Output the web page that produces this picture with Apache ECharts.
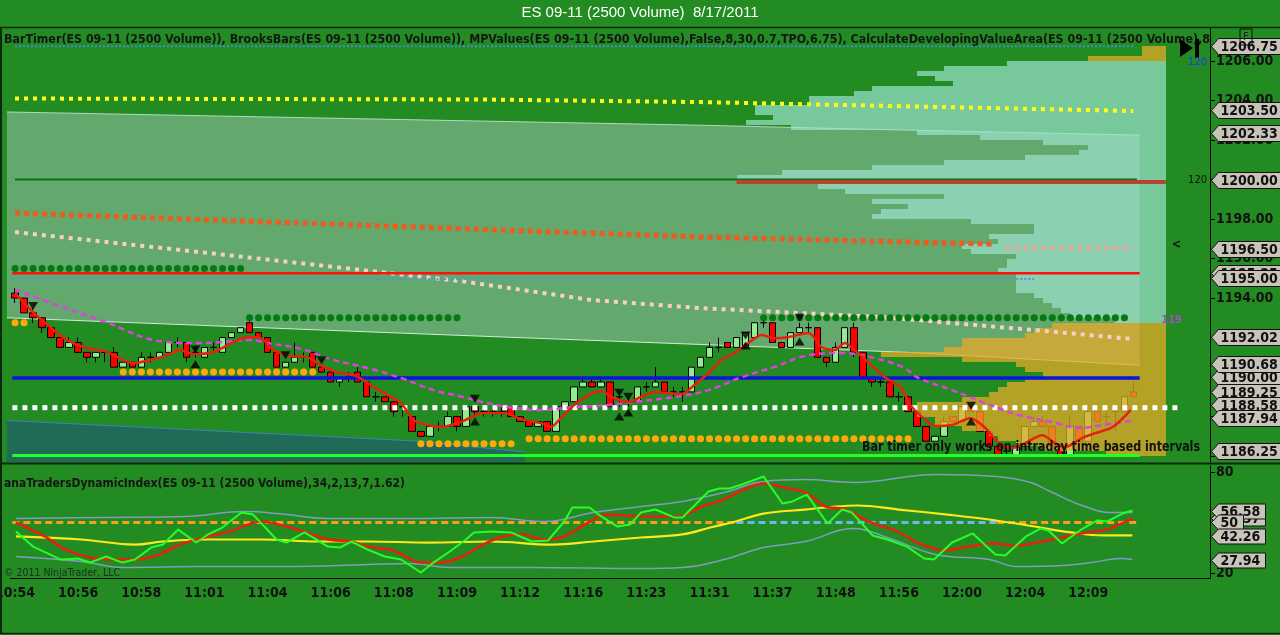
<!DOCTYPE html>
<html><head><meta charset="utf-8">
<script src="https://cdn.jsdelivr.net/npm/echarts@6/dist/echarts.min.js"></script>
<style>html,body{margin:0;padding:0;background:#228B22;}#c{width:1280px;height:635px;}</style>
</head><body><div id="c"></div>
<script>
// ---------------- DATA ----------------
const timeLabels = ['10:54','10:56','10:58','11:01','11:04','11:06','11:08','11:09','11:12','11:16','11:23','11:31','11:37','11:48','11:56','12:00','12:04','12:09'];
const slotCount = 133;
const barsPerLabel = 7;

const opens = [1194.25,1194.0,1193.25,1193.0,1192.5,1192.0,1191.5,1191.75,1191.25,1191.0,
1191.25,1191.25,1190.5,1190.75,1190.5,1191.0,1191.0,1191.25,1191.75,1191.75,
1191.25,1191.0,1191.5,1191.25,1192.0,1192.25,1192.75,1192.25,1192.0,1191.25,
1190.5,1190.75,1191.0,1191.25,1190.5,1190.25,1189.75,1190.0,1190.25,1189.75,
1189.0,1189.0,1188.75,1188.5,1188.0,1187.25,1187.0,1187.5,1187.5,1188.0,
1187.5,1188.5,1188.25,1188.25,1188.25,1188.5,1188.0,1187.75,1187.5,1187.75,
1187.25,1188.5,1188.75,1189.5,1189.75,1189.5,1189.75,1189.0,1188.75,1188.75,
1189.5,1189.5,1189.75,1189.25,1189.25,1189.25,1190.5,1191.0,1191.5,1191.75,
1191.5,1191.5,1192.0,1192.75,1192.75,1191.75,1191.5,1192.25,1192.5,1192.5,
1191.0,1190.75,1191.5,1192.5,1191.25,1190.0,1189.75,1189.75,1189.0,1189.0,
1188.25,1187.5,1186.75,1187.0,1188.0,1187.75,1188.5,1188.25,1187.25,1186.5,
1186.25,1186.0,1186.5,1187.5,1187.75,1187.5,1186.5,1186.0,1187.5,1186.75,
1188.25,1188.0,1188.25,1188.25,1189.25];
const closes = [1194.0,1193.25,1193.0,1192.5,1192.0,1191.5,1191.75,1191.25,1191.0,1191.25,
1191.25,1190.5,1190.75,1190.5,1191.0,1191.0,1191.25,1191.75,1191.75,1191.0,
1191.25,1191.5,1191.5,1192.0,1192.25,1192.5,1192.25,1192.0,1191.25,1190.5,
1190.75,1191.0,1191.0,1190.5,1190.25,1189.75,1190.0,1190.0,1189.75,1189.0,
1189.0,1188.75,1188.25,1188.5,1187.25,1187.0,1187.5,1187.5,1188.0,1187.5,
1188.5,1188.25,1188.25,1188.25,1188.25,1188.0,1187.75,1187.5,1187.75,1187.25,
1188.5,1188.75,1189.5,1189.75,1189.5,1189.75,1188.5,1189.0,1188.75,1189.5,
1189.5,1189.75,1189.25,1189.25,1189.25,1190.5,1191.0,1191.5,1191.5,1191.5,
1192.0,1192.25,1192.75,1192.75,1191.75,1191.5,1192.25,1192.5,1192.5,1191.0,
1190.75,1191.5,1192.5,1191.25,1190.0,1189.75,1189.75,1189.0,1189.0,1188.25,
1187.5,1186.75,1187.0,1187.75,1187.75,1188.5,1188.25,1187.25,1186.5,1186.0,
1186.25,1186.5,1187.5,1187.75,1187.5,1186.5,1186.0,1187.5,1186.75,1188.25,
1187.75,1188.0,1188.25,1189.0,1189.0];
const lows = [1193.75,1193.25,1192.75,1192.25,1192.0,1191.5,1191.5,1191.25,1190.75,1190.75,
1190.75,1190.5,1190.5,1190.5,1190.5,1190.75,1191.0,1191.25,1191.5,1190.75,
1191.0,1191.0,1191.25,1191.25,1192.0,1192.25,1192.25,1192.0,1191.25,1190.5,
1190.5,1190.75,1190.75,1190.5,1190.25,1189.75,1189.5,1189.75,1189.75,1189.0,
1188.75,1188.75,1188.0,1188.0,1187.25,1187.0,1187.0,1187.25,1187.5,1187.25,
1187.5,1188.0,1188.0,1188.0,1188.0,1188.0,1187.75,1187.5,1187.5,1187.25,
1187.25,1188.5,1188.75,1189.5,1189.5,1189.5,1188.5,1188.5,1188.5,1188.75,
1189.25,1189.5,1189.25,1189.0,1188.75,1189.25,1190.5,1191.0,1191.25,1191.5,
1191.5,1191.5,1192.0,1192.5,1191.75,1191.5,1191.5,1192.25,1192.25,1191.0,
1190.5,1190.75,1191.5,1191.0,1190.0,1189.5,1189.5,1189.0,1188.75,1188.25,
1187.5,1186.75,1186.75,1187.0,1187.75,1187.75,1188.25,1187.25,1186.5,1186.0,
1186.0,1186.0,1186.5,1187.5,1187.5,1186.5,1186.0,1186.0,1186.75,1186.75,
1187.75,1187.5,1187.25,1188.25,1189.0];
const highs = [1194.5,1194.0,1193.5,1193.0,1192.5,1192.0,1192.0,1192.0,1191.25,1191.25,
1191.25,1191.5,1190.75,1190.75,1191.25,1191.25,1191.25,1191.75,1192.0,1191.75,
1191.5,1191.5,1191.75,1192.0,1192.25,1192.5,1193.0,1192.25,1192.0,1191.25,
1190.75,1191.75,1191.25,1191.25,1190.5,1190.25,1190.0,1190.25,1190.5,1189.75,
1189.25,1189.0,1188.75,1188.5,1188.0,1187.25,1187.5,1187.75,1188.25,1188.0,
1188.5,1188.5,1188.5,1188.5,1188.5,1188.5,1188.0,1187.75,1187.75,1187.75,
1188.5,1188.75,1189.5,1190.0,1190.0,1190.0,1189.75,1189.25,1189.0,1189.5,
1189.75,1190.5,1189.75,1189.5,1189.5,1190.5,1191.0,1191.75,1192.0,1191.75,
1192.0,1192.25,1192.75,1193.0,1192.75,1191.75,1192.25,1192.75,1192.75,1192.5,
1191.0,1191.75,1192.5,1192.75,1191.25,1190.0,1190.0,1189.75,1189.25,1189.0,
1188.25,1187.5,1187.0,1188.0,1188.0,1188.5,1188.5,1188.25,1187.25,1186.5,
1186.5,1186.5,1187.5,1188.0,1188.0,1187.5,1186.5,1188.0,1187.5,1188.5,
1188.25,1188.25,1188.25,1189.0,1189.75];

// price axis
const priceMin = 1185.70, priceMax = 1207.67;
const priceTicks = [1186,1188,1190,1192,1194,1196,1198,1200,1202,1204,1206];
const priceTags = [1206.75,1203.50,1202.33,1200.00,1196.50,1195.25,1195.00,1192.02,1190.00,1190.68,1189.25,1188.58,1187.94,1186.25];

// market profile (row top price, left edge in bar units)
const profilePrices = [1206.75,1206.5,1206.25,1206.0,1205.75,1205.5,1205.25,1205.0,1204.75,1204.5,
1204.25,1204.0,1203.75,1203.5,1203.25,1203.0,1202.75,1202.5,1202.25,1202.0,
1201.75,1201.5,1201.25,1201.0,1200.75,1200.5,1200.25,1200.0,1199.75,1199.5,
1199.25,1199.0,1198.75,1198.5,1198.25,1198.0,1197.75,1197.5,1197.25,1197.0,
1196.75,1196.5,1196.25,1196.0,1195.75,1195.5,1195.25,1195.0,1194.75,1194.5,
1194.25,1194.0,1193.75,1193.5,1193.25,1193.0,
1192.75,1192.5,1192.25,1192.0,1191.75,1191.5,1191.25,1191.0,1190.75,1190.5,
1190.25,1190.0,1189.75,1189.5,1189.25,1189.0,1188.75,1188.5,1188.25,1188.0,
1187.75,1187.5,1187.25,1187.0,1186.75,1186.5,1186.25];
const profileLeft = [125,125,119,110,103,100,102,104,95,93,
88,88,82,82,84,81,86,100,107,114,
119,118,112,103,95,85,80,80,89,92,
103,95,99,96,95,106,113,113,108,109,
105,106,111,110,110,109,111,111,111,111,
113,114,115,116,117,122,
115,113,112,105,105,103,96,105,111,112,
114,112,110,109,108,105,100,100,100,102,
102,105,108,109,111,114,121];
const profileRight = 127.6;
const profileGoldAbove = 1206.1, profileGoldBelow = 1193.0;

// developing value area band
const vaBars = [-0.9, 47, 76, 99, 124.7];
const vaTop = [1203.42, 1203.0, 1202.75, 1202.5, 1202.25];
const vaBottom = [1193.0, 1192.15, 1191.65, 1191.25, 1190.6];
// previous value area (dark teal)
const tealBars = [-0.9, 45, 56.5];
const tealTop = [1187.8, 1186.75, 1186.2];

// sloped dotted levels
const yellowBars = [0, 52, 76, 124];
const yellowPrices = [1204.1, 1204.05, 1203.92, 1203.47];
const triBars = [0, 76, 108.7];
const triPrices = [1198.3, 1197.09, 1196.73];
const paleTriBars = [109.8, 124];
const paleTriPrices = [1196.53, 1196.53];
const pinkBars = [0, 22, 49.4, 63.9, 76, 96, 113, 124.1];
const pinkPrices = [1197.34, 1196.25, 1194.86, 1193.9, 1193.49, 1193.04, 1192.38, 1191.92];

// horizontal levels
const topBlueLevel = 1206.75, topBlueSpan = [0, 124];
const greenLevel = 1200.0, greenSpan = [0, 124.4];
const brownLevel = 1199.88, brownSpan = [80, 127.6];
const redLevel = 1195.25, redSpan = [-0.3, 124.7];
const blueDotLevel = 1194.96, blueDotSpan = [-0.3, 113];
const blueLevel = 1189.95, blueSpan = [-0.3, 124.7];
const whiteLevel = 1188.45, whiteSpan = [-1.4, 128.9];
const limeLevel = 1186.03, limeSpan = [-0.3, 124.7];
const greenDotLevels = [1195.5, 1193.0, 1193.0];
const greenDotFrom = [0, 26, 83];
const greenDotTo = [25.5, 49.4, 124];
const orangeDotLevels = [1192.75, 1190.25, 1186.62, 1186.88];
const orangeDotFrom = [0, 12, 45, 57];
const orangeDotTo = [2, 34, 56, 100];

// moving averages
const fastBars = [0,2,3.9,5.8,8,10.2,12,13.1,15,16.9,18.3,19.8,22,23.6,25.8,27.2,28.7,30.6,32.4,34.2,36.1,37.6,39.1,41.3,42.8,44.2,45.3,47.2,49.4,52,54.2,56.1,58.3,59.4,60.6,62,63.6,65,66.1,68,69.4,70.9,72.4,73.9,75.3,76.9,78.3,79.8,81.3,82.8,84.2,85.8,88,89.4,90.9,92,93.1,94.7,96.4,98.3,99.1,100.6,102,103.9,105.9,107.6,109.1,110.6,112,113.9,115.3,116.4,118.3,119.8,121.7,123.7];
const fastPrices = [1194.25,1193.29,1192.53,1191.87,1191.47,1191.27,1190.86,1190.71,1190.86,1191.11,1191.37,1191.16,1191.27,1191.62,1192.03,1191.97,1191.37,1191.06,1191.01,1190.51,1190.2,1190.1,1189.7,1189.09,1188.68,1187.82,1187.62,1187.47,1187.72,1188.18,1188.18,1187.87,1187.67,1187.47,1187.97,1188.58,1189.09,1189.29,1188.99,1188.73,1188.99,1189.24,1189.19,1189.14,1189.59,1190.2,1190.86,1191.22,1191.72,1192.13,1191.97,1192.03,1192.23,1191.52,1191.37,1191.72,1191.37,1190.71,1190.0,1189.44,1188.68,1187.97,1187.52,1187.57,1187.92,1187.42,1186.66,1186.41,1186.66,1187.06,1186.66,1186.46,1186.91,1187.16,1187.47,1188.33];
const slowBars = [0,9.4,16.9,20.6,26.1,28,31.7,35.3,39.1,42.8,46.4,49.2,51.9,54.7,58.3,62,65.8,69.4,73.1,76.9,80.6,84.2,88,91.7,95.3,98.4,100.2,103.9,107.6,111.3,115,118,120.6,124.1];
const slowPrices = [1194.41,1192.89,1191.77,1191.72,1191.87,1191.72,1191.42,1190.86,1190.46,1189.95,1189.34,1189.04,1188.73,1188.48,1188.33,1188.48,1188.58,1188.78,1188.99,1189.34,1190.0,1190.51,1191.11,1191.22,1190.96,1190.51,1189.95,1189.34,1188.68,1188.08,1187.72,1187.42,1187.57,1187.82];

// bar-pattern markers
const downMarkBars = [2,20,30,34,51,67,68,81,87,106];
const downMarkPrices = [1193.6,1191.4,1191.1,1190.85,1188.9,1189.2,1189.0,1192.1,1193.0,1188.55];
const upMarkBars = [20,51,67,68,81,87,106];
const upMarkPrices = [1190.65,1187.75,1188.0,1188.2,1191.6,1191.8,1187.75];

// lower panel: Traders Dynamic Index
const tdiMin = 17.03, tdiMax = 83.56;
const tdiTicks = [20, 80];
const tdiTags = [52.57, 56.58, 50, 42.26, 27.94];
const rsiBars = [0.1,2,5.1,7,8.3,10.1,11.9,13.3,15.1,16.4,18.1,20.1,21.4,23,25.1,26.4,29,30.1,32.1,34.7,36,37.3,39.1,41,42.8,45,46.4,48.2,50,50.9,52.8,55,57.3,59.1,60.9,61.8,63.7,65,66.8,68.2,69.4,71,73.1,74,76.9,78.1,79.2,80.6,83,85.1,86.2,87.8,90.1,91.7,92.8,95.1,96.7,98.9,100.8,101.9,103.9,106.2,108.7,109.8,112.1,113.7,114.6,116.1,118.2,120,121.1,122.8,123.9];
const rsiVals = [44.6,35.7,28.0,28.6,26.2,29.8,26.2,28.0,35.1,36.9,45.8,38.1,42.9,47.0,55.9,54.7,39.9,38.1,44.1,35.7,35.1,38.7,33.9,29.8,28.0,20.3,26.2,32.8,39.9,44.1,44.6,44.1,38.7,39.3,50.6,58.9,58.9,53.6,47.6,48.8,55.9,57.7,53.0,53.0,68.4,70.2,70.2,72.6,77.3,61.3,62.5,66.6,49.4,57.7,55.9,42.3,39.9,35.7,28.6,28.0,38.1,43.5,31.0,30.4,41.7,46.4,45.2,37.5,45.8,51.2,50.6,55.3,57.1];
const sigBars = [0.1,3.3,5.6,8.3,11,13.3,16,18.3,21,23.8,27.3,30.1,32.3,34.7,37.3,39.1,41.9,45,47.3,49.6,51.9,54.1,56.3,58.7,60.9,63.2,65.4,67.7,69.4,71.2,73.6,76.2,78.6,80.8,83,85.3,87.6,89.9,92.1,94.9,97.6,100.3,103,105.8,108.4,111.1,113.9,116.6,118.9,121.1,123.9];
const sigVals = [50.0,41.7,33.9,29.2,28.0,28.0,31.0,36.9,41.1,44.6,50.6,47.6,44.1,39.9,38.7,35.7,33.4,26.2,26.2,29.8,36.9,41.7,42.9,39.9,41.7,48.8,54.7,54.2,53.6,53.6,53.6,59.5,63.7,69.6,73.2,70.8,67.8,59.5,57.7,50.0,45.2,37.5,33.4,35.7,37.5,36.3,38.7,41.7,44.1,45.8,52.4];
const baseBars = [0.1,7.4,13.3,16.4,21,27.3,33.7,39.1,46,52.8,59.6,64.1,69.4,74,77.1,79.9,83,87.6,89.9,93.4,98,103.4,108,111.7,117.1,120.7,123.9];
const baseVals = [41.7,39.9,36.9,38.7,39.9,39.9,38.7,38.7,38.1,38.7,36.9,38.7,41.1,42.9,47.0,50.6,55.3,57.7,58.9,60.1,57.7,54.7,51.8,48.8,44.1,42.3,42.3];
const upBandBars = [0.1,9.7,18.8,25.6,29.2,34.7,43.7,52.8,58.7,64.1,69.4,74,78.6,83,87.6,93,102.1,108.9,112.6,114.8,118,121.6,123.9];
const upBandVals = [52.4,53.0,53.6,56.5,55.3,52.4,52.4,53.0,50.6,55.9,59.5,62.5,67.8,74.4,75.5,73.8,78.5,77.3,73.8,68.4,60.7,55.9,55.9];
const loBandBars = [0.1,7.4,11.9,21,30.1,39.1,43.7,48.2,57.3,69.4,74,78.6,83,87.6,93,96.7,102.1,108,111.1,116.1,119.3,122.6,123.9];
const loBandVals = [29.8,26.8,23.3,23.8,23.8,25.0,25.6,23.3,23.3,22.7,23.3,28.0,35.1,38.7,46.4,41.1,31.0,28.0,23.8,24.4,26.2,28.6,28.0];
const midLevel = 50;
const midOrangeSpans = [[-0.3, 80], [108.9, 124.7]];
const midBlueSpan = [80, 108.9];

// texts
const titleText = 'ES 09-11 (2500 Volume)  8/17/2011';
const headerText = 'BarTimer(ES 09-11 (2500 Volume)), BrooksBars(ES 09-11 (2500 Volume)), MPValues(ES 09-11 (2500 Volume),False,8,30,0.7,TPO,6.75), CalculateDevelopingValueArea(ES 09-11 (2500 Volume),8';
const tdiTitle = 'anaTradersDynamicIndex(ES 09-11 (2500 Volume),34,2,13,7,1.62)';
const timerText = 'Bar timer only works on intraday time based intervals';
const copyText = '\u00A9 2011 NinjaTrader, LLC';

// ---------------- CHART ----------------
const NARROW = '"Liberation Sans Narrow","Arial Narrow","DejaVu Sans Condensed","Roboto Condensed","Liberation Sans",sans-serif';
const mctx = document.createElement('canvas').getContext('2d');
function textW(t, size, weight) { mctx.font = (weight || 'normal') + ' ' + size + 'px ' + NARROW; return mctx.measureText(t).width; }
function fitText(text, x, y, size, weight, width, fill) {
  return { type: 'text', x: x, y: y, scaleX: width / textW(text, size, weight), z: 100, silent: true,
    style: { text: text, fontSize: size, fontWeight: weight, fontFamily: NARROW, fill: fill, verticalAlign: 'middle', align: 'left' } };
}
const zip = (xs, ys) => xs.map((x, i) => [x, ys[i]]);
const seg = (span, y) => [[span[0], y], [span[1], y]];
const isLabelSlot = (i) => i % barsPerLabel === 0 && i / barsPerLabel < timeLabels.length;
const categories = Array.from({ length: slotCount }, (_, i) => isLabelSlot(i) ? timeLabels[i / barsPerLabel] : '#' + i);

function line(xi, yi, data, style, extra) {
  return Object.assign({ type: 'line', xAxisIndex: xi, yAxisIndex: yi, data: data, symbol: 'none', silent: true, clip: false, z: 4,
    lineStyle: Object.assign({ type: 'solid', cap: 'butt' }, style) }, extra || {});
}

function tagSeries(values, xi, yi, fmt, size, h) {
  return { type: 'custom', xAxisIndex: xi, yAxisIndex: yi, clip: false, z: 10, silent: true,
    data: values.map(v => [0, v]),
    renderItem: function (params, api) {
      const v = api.value(1);
      const y = Math.round(api.coord([0, v])[1]) + 0.5;
      const x0 = Math.round(params.coordSys.x + params.coordSys.width) + 1.5;
      const txt = fmt(v);
      const w = Math.round(textW(txt, size, 'bold')) + 14;
      const hh = h / 2;
      return { type: 'group', children: [
        { type: 'polygon', shape: { points: [[x0, y], [x0 + 7, y - hh], [x0 + w, y - hh], [x0 + w, y + hh], [x0 + 7, y + hh]] },
          style: { fill: '#C8C4BA', stroke: '#111', lineWidth: 1 } },
        { type: 'text', style: { text: txt, x: x0 + 9, y: y + 0.5, verticalAlign: 'middle', fontSize: size, fontWeight: 'bold', fontFamily: NARROW, fill: '#111' } }
      ] };
    } };
}

const series = [];
// value area band
series.push({ type: 'custom', xAxisIndex: 1, yAxisIndex: 0, clip: false, z: 1, silent: true, data: [[0, 0]],
  renderItem: function (params, api) {
    const top = vaBars.map((b, i) => api.coord([b, vaTop[i]]));
    const bot = vaBars.map((b, i) => api.coord([b, vaBottom[i]]));
    return { type: 'group', children: [
      { type: 'polygon', shape: { points: top.concat(bot.slice().reverse()) }, style: { fill: 'rgba(180,205,200,0.45)' } },
      { type: 'polyline', shape: { points: bot }, style: { stroke: 'rgba(225,242,235,0.9)', lineWidth: 1, fill: null } },
      { type: 'polyline', shape: { points: top }, style: { stroke: 'rgba(205,232,222,0.8)', lineWidth: 1, fill: null } }
    ] };
  } });
// teal area
series.push({ type: 'custom', xAxisIndex: 1, yAxisIndex: 0, clip: false, z: 1, silent: true, data: [[0, 0]],
  renderItem: function (params, api) {
    const top = tealBars.map((b, i) => api.coord([b, tealTop[i]]));
    const pts = top.concat([api.coord([tealBars[tealBars.length - 1], priceMin]), api.coord([tealBars[0], priceMin])]);
    return { type: 'group', children: [
      { type: 'polygon', shape: { points: pts }, style: { fill: '#1F6B57' } },
      { type: 'polyline', shape: { points: top }, style: { stroke: '#3F82B8', lineWidth: 1, fill: null } }
    ] };
  } });
// candles
series.push({ type: 'candlestick', xAxisIndex: 0, yAxisIndex: 0, z: 2, silent: true, barWidth: 7,
  data: opens.map((o, i) => [o, closes[i], lows[i], highs[i]]),
  itemStyle: { color: '#90EE90', color0: '#FF0000', borderColor: '#000', borderColor0: '#000', borderWidth: 1 } });
// profile
series.push({ type: 'custom', xAxisIndex: 1, yAxisIndex: 0, clip: false, z: 3, silent: true,
  data: zip(profileLeft, profilePrices),
  renderItem: function (params, api) {
    const p = api.value(1);
    const a = api.coord([api.value(0), p]);
    const b = api.coord([profileRight, p - 0.25]);
    const gold = p < profileGoldBelow || p > profileGoldAbove;
    const x0 = Math.round(a[0]), y0 = Math.round(a[1]), x1 = Math.round(b[0]), y1 = Math.round(b[1]);
    return { type: 'rect', shape: { x: x0, y: y0, width: x1 - x0, height: y1 - y0 },
      style: { fill: gold ? 'rgba(232,170,40,0.74)' : 'rgba(158,227,209,0.69)' } };
  } });
// levels
series.push(line(1, 0, seg(topBlueSpan, topBlueLevel), { color: '#3D8FD6', width: 2, type: [2, 2] }));
series.push(line(1, 0, zip(yellowBars, yellowPrices), { color: '#FFFF1A', width: 4, type: [4, 5] }));
series.push(line(1, 0, zip(triBars, triPrices), { color: '#F05A1E', width: 5, type: [5, 4] }));
series.push(line(1, 0, zip(paleTriBars, paleTriPrices), { color: '#D9AFA4', width: 5, type: [5, 4] }));
series.push(line(1, 0, zip(pinkBars, pinkPrices), { color: '#F7CFC6', width: 4, type: [4, 5] }));
series.push(line(1, 0, seg(greenSpan, greenLevel), { color: '#0B6E12', width: 2 }));
series.push(line(1, 0, seg(brownSpan, brownLevel), { color: '#B8432C', width: 4 }));
series.push(line(1, 0, seg(redSpan, redLevel), { color: '#FF1010', width: 2.5 }));
series.push(line(1, 0, seg(blueDotSpan, blueDotLevel), { color: '#4A98D8', width: 2, type: [2, 2] }));
series.push(line(1, 0, seg(blueSpan, blueLevel), { color: '#0A14DC', width: 3.5 }));
series.push(line(1, 0, seg(whiteSpan, whiteLevel), { color: '#FFFFFF', width: 5, type: [5, 5] }));
series.push(line(1, 0, seg(limeSpan, limeLevel), { color: '#22FF22', width: 3 }));
greenDotLevels.forEach((lv, i) => series.push(line(1, 0, seg([greenDotFrom[i], greenDotTo[i]], lv), { color: '#067A12', width: 7, type: [0.1, 8.92], cap: 'round' })));
orangeDotLevels.forEach((lv, i) => series.push(line(1, 0, seg([orangeDotFrom[i], orangeDotTo[i]], lv), { color: '#FFA80A', width: 7, type: [0.1, 8.92], cap: 'round' })));
series.push(line(1, 0, zip(slowBars, slowPrices), { color: '#E040E0', width: 2.5, type: [6, 4] }, { smooth: 0.4 }));
series.push(line(1, 0, zip(fastBars, fastPrices), { color: '#E8200E', width: 2.5 }, { smooth: 0.3 }));
// markers
series.push({ type: 'scatter', xAxisIndex: 1, yAxisIndex: 0, z: 5, silent: true, symbol: 'triangle', symbolRotate: 180, symbolSize: [10, 8],
  itemStyle: { color: '#000' }, data: zip(downMarkBars, downMarkPrices) });
series.push({ type: 'scatter', xAxisIndex: 1, yAxisIndex: 0, z: 5, silent: true, symbol: 'triangle', symbolSize: [10, 8],
  itemStyle: { color: '#000' }, data: zip(upMarkBars, upMarkPrices) });
// lower panel
midOrangeSpans.forEach(sp => series.push(line(3, 1, seg(sp, midLevel), { color: '#FF9C1E', width: 3, type: [7, 4] })));
series.push(line(3, 1, seg(midBlueSpan, midLevel), { color: '#6EB6EE', width: 3, type: [7, 4] }));
series.push(line(3, 1, zip(upBandBars, upBandVals), { color: '#7F9DC0', width: 1.5 }, { smooth: 0.4 }));
series.push(line(3, 1, zip(loBandBars, loBandVals), { color: '#7F9DC0', width: 1.5 }, { smooth: 0.4 }));
series.push(line(3, 1, zip(baseBars, baseVals), { color: '#FFE81A', width: 2.2 }, { smooth: 0.4 }));
series.push(line(3, 1, zip(sigBars, sigVals), { color: '#E8200E', width: 2.6 }, { smooth: 0.3 }));
series.push(line(3, 1, zip(rsiBars, rsiVals), { color: '#26FF26', width: 2 }));
// tags
series.push(tagSeries(priceTags, 1, 0, v => v.toFixed(2), 14, 16));
series.push(tagSeries(tdiTags, 3, 1, v => Number.isInteger(v) ? String(v) : v.toFixed(2), 14, 15));

const axisFont = { color: '#111', fontSize: 14, fontWeight: 'bold', fontFamily: NARROW };
const option = {
  backgroundColor: '#228B22',
  animation: false,
  grid: [
    { left: 10.5, right: 70, top: 28, height: 434, outerBoundsMode: 'none', containLabel: false },
    { left: 10.5, right: 70, top: 466, height: 112, outerBoundsMode: 'none', containLabel: false }
  ],
  xAxis: [
    { type: 'category', gridIndex: 0, data: categories, show: false, boundaryGap: true, axisLine: { onZero: false } },
    { type: 'value', gridIndex: 0, min: -0.5, max: slotCount - 0.5, show: false, axisLine: { onZero: false } },
    { type: 'category', gridIndex: 1, data: categories, boundaryGap: true,
      axisLine: { onZero: false, lineStyle: { color: '#000', width: 1 } },
      axisTick: { alignWithLabel: true, interval: isLabelSlot, length: 5, lineStyle: { color: '#000' } },
      axisLabel: Object.assign({ interval: isLabelSlot, margin: 8 }, axisFont), splitLine: { show: false } },
    { type: 'value', gridIndex: 1, min: -0.5, max: slotCount - 0.5, show: false, axisLine: { onZero: false } }
  ],
  yAxis: [
    { type: 'value', gridIndex: 0, position: 'right', min: priceMin, max: priceMax,
      axisLine: { show: true, onZero: false, lineStyle: { color: '#000' } },
      axisTick: { show: true, customValues: priceTicks, length: 5, lineStyle: { color: '#000' } },
      axisLabel: Object.assign({ customValues: priceTicks, formatter: v => Number(v).toFixed(2), margin: 6 }, axisFont),
      splitLine: { show: false } },
    { type: 'value', gridIndex: 1, position: 'right', min: tdiMin, max: tdiMax,
      axisLine: { show: true, onZero: false, lineStyle: { color: '#000' } },
      axisTick: { show: true, customValues: tdiTicks, length: 5, lineStyle: { color: '#000' } },
      axisLabel: Object.assign({ customValues: tdiTicks, margin: 6 }, axisFont),
      splitLine: { show: false } }
  ],
  graphic: [
    { type: 'line', shape: { x1: 0, y1: 27.5, x2: 1280, y2: 27.5 }, style: { stroke: '#0B2A0B', lineWidth: 1.5 }, z: 90 },
    { type: 'line', shape: { x1: 0, y1: 463.5, x2: 1280, y2: 463.5 }, style: { stroke: '#0B2A0B', lineWidth: 2 }, z: 90 },
    { type: 'line', shape: { x1: 0, y1: 633.5, x2: 1280, y2: 633.5 }, style: { stroke: '#0B2A0B', lineWidth: 1.5 }, z: 90 },
    { type: 'line', shape: { x1: 1, y1: 27, x2: 1, y2: 634 }, style: { stroke: '#0B2A0B', lineWidth: 2 }, z: 90 },
    { type: 'text', x: 640, y: 13, z: 100, silent: true, style: { text: titleText, fill: '#FFFFFF', fontSize: 15, fontFamily: '"Liberation Sans",Arial,sans-serif', align: 'center', verticalAlign: 'middle' } },
    fitText(headerText, 4, 40, 13, 'bold', 1206, '#151515'),
    fitText(tdiTitle, 4, 484, 13, 'bold', 401, '#151515'),
    fitText(timerText, 862, 447, 14, 'bold', 338, '#111111'),
    fitText(copyText, 4, 573, 11, 'normal', 116, '#1E2E1E'),
    { type: 'polygon', z: 101, silent: true, shape: { points: [[1180, 39], [1180, 57], [1193, 48]] }, style: { fill: '#000' } },
    { type: 'rect', z: 101, silent: true, shape: { x: 1195, y: 39, width: 4, height: 19 }, style: { fill: '#000' } },
    { type: 'rect', z: 101, silent: true, shape: { x: 1240, y: 29, width: 12, height: 16 }, style: { fill: null, stroke: '#111', lineWidth: 1 } },
    { type: 'text', x: 1243, y: 37, z: 101, silent: true, style: { text: 'F', fontSize: 11, fill: '#222', verticalAlign: 'middle', fontFamily: NARROW } },
    { type: 'text', x: 1207, y: 62, z: 101, silent: true, style: { text: '120', fontSize: 11, fill: '#2038F0', align: 'right', verticalAlign: 'middle', fontFamily: NARROW } },
    { type: 'text', x: 1207, y: 180, z: 101, silent: true, style: { text: '120', fontSize: 11, fill: '#111', align: 'right', verticalAlign: 'middle', fontFamily: NARROW } },
    { type: 'text', x: 1182, y: 320, z: 101, silent: true, style: { text: '119', fontSize: 11, fontWeight: 'bold', fill: '#A050C8', align: 'right', verticalAlign: 'middle', fontFamily: NARROW } },
    { type: 'text', x: 1172, y: 245, z: 101, silent: true, style: { text: '<', fontSize: 12, fontWeight: 'bold', fill: '#111', verticalAlign: 'middle', fontFamily: NARROW } }
  ],
  series: series
};
const chart = echarts.init(document.getElementById('c'));
chart.setOption(option);
</script></body></html>
